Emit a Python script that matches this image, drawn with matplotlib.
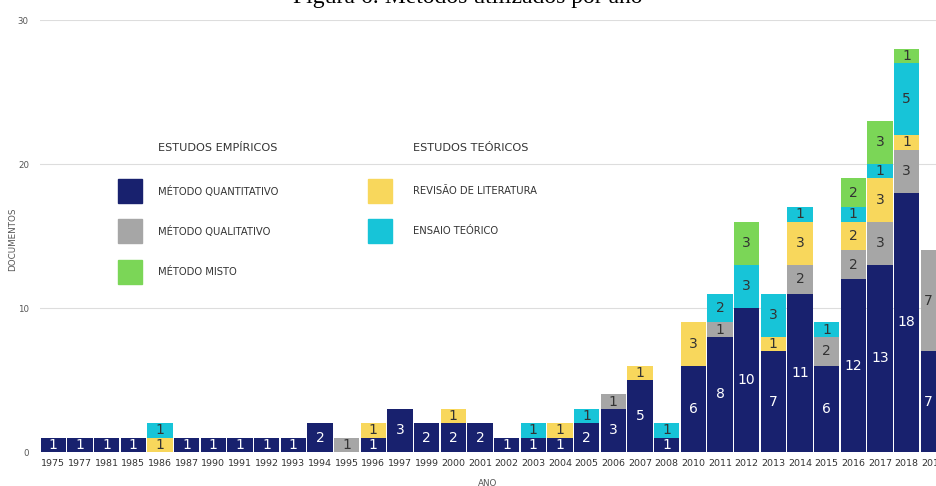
import matplotlib.pyplot as plt
import numpy as np
from matplotlib.patches import Rectangle

anos = ['1975', '1977', '1981', '1985', '1986', '1987', '1990', '1991', '1992', '1993',
        '1994', '1995', '1996', '1997', '1999', '2000', '2001', '2002', '2003', '2004',
        '2005', '2006', '2007', '2008', '2010', '2011', '2012', '2013', '2014', '2015',
        '2016', '2017', '2018', '2019']

quantitativo = [1, 1, 1, 1, 0, 1, 1, 1, 1, 1, 2, 0, 1, 3, 2, 2, 2, 1, 1, 1,
                2, 3, 5, 1, 6, 8, 10, 7, 11, 6, 12, 13, 18, 7]
qualitativo = [0, 0, 0, 0, 0, 0, 0, 0, 0, 0, 0, 1, 0, 0, 0, 0, 0, 0, 0, 0,
               0, 1, 0, 0, 0, 1, 0, 0, 2, 2, 2, 3, 3, 7]
revisao = [0, 0, 0, 0, 1, 0, 0, 0, 0, 0, 0, 0, 1, 0, 0, 1, 0, 0, 0, 1,
           0, 0, 1, 0, 3, 0, 0, 1, 3, 0, 2, 3, 1, 0]
ensaio = [0, 0, 0, 0, 1, 0, 0, 0, 0, 0, 0, 0, 0, 0, 0, 0, 0, 0, 1, 0,
          1, 0, 0, 1, 0, 2, 3, 3, 1, 1, 1, 1, 5, 0]
misto = [0, 0, 0, 0, 0, 0, 0, 0, 0, 0, 0, 0, 0, 0, 0, 0, 0, 0, 0, 0,
         0, 0, 0, 0, 0, 0, 3, 0, 0, 0, 2, 3, 1, 0]

series = [quantitativo, qualitativo, revisao, ensaio, misto]
cores = ['#18216e', '#a6a6a6', '#f8d75c', '#17c4d8', '#7bd657']
cor_txt = ['white', '#333333', '#333333', '#333333', '#333333']

fig = plt.figure(figsize=(9.36, 4.86), dpi=100)
ax = fig.add_axes([40/936, 1-452/486, 1-40/936, (452-20)/486])

x = np.arange(len(anos))
base = np.zeros(len(anos))
for vals, c, tc in zip(series, cores, cor_txt):
    vals = np.array(vals)
    b = ax.bar(x, vals, 0.94, bottom=base, color=c, zorder=3)
    ax.bar_label(b, labels=[str(v) if v else '' for v in vals], label_type='center',
                 color=tc, fontsize=10, zorder=4)
    base = base + vals

ax.set_xlim(-0.5, 33.1)
ax.set_ylim(0, 30)
ax.set_yticks([0, 10, 20, 30])
ax.set_xticks(x)
ax.set_xticklabels(anos)
ax.tick_params(axis='x', length=0, labelsize=6.8, labelcolor='#333333', pad=5)
ax.tick_params(axis='y', length=0, labelsize=6.2, labelcolor='#555555', pad=8)
ax.grid(axis='y', color='#dddddd', linewidth=0.8, zorder=0)
for s in ax.spines.values():
    s.set_visible(False)

fig.text(13/936, 1-239/486, 'DOCUMENTOS', rotation=90, ha='center', va='center',
         fontsize=6.3, color='#555555')
fig.text(488/936, 1-483/486, 'ANO', ha='center', va='center', fontsize=6.3, color='#555555')
fig.text(0.5, 1+3/486, 'Figura 6: Métodos utilizados por ano', ha='center', va='center',
         fontsize=17, family='Liberation Serif', color='black')

# legenda desenhada a mao
fig.text(158/936, 1-148/486, 'ESTUDOS EMPÍRICOS', ha='left', va='center', fontsize=8.1, color='#333333')
fig.text(413/936, 1-148/486, 'ESTUDOS TEÓRICOS', ha='left', va='center', fontsize=8.1, color='#333333')
itens = [('MÉTODO QUANTITATIVO', cores[0], 118, 191),
         ('MÉTODO QUALITATIVO', cores[1], 118, 231),
         ('MÉTODO MISTO', cores[4], 118, 272),
         ('REVISÃO DE LITERATURA', cores[2], 368, 191),
         ('ENSAIO TEÓRICO', cores[3], 368, 231)]
for nome, c, px, py in itens:
    fig.add_artist(Rectangle((px/936, 1-(py+12)/486), 24/936, 24/486, color=c,
                             transform=fig.transFigure))
    tx = 158 if px < 200 else 413
    fig.text(tx/936, 1-py/486, nome, ha='left', va='center', fontsize=7.2, color='#333333')

fig.savefig('out.png', dpi=100)
